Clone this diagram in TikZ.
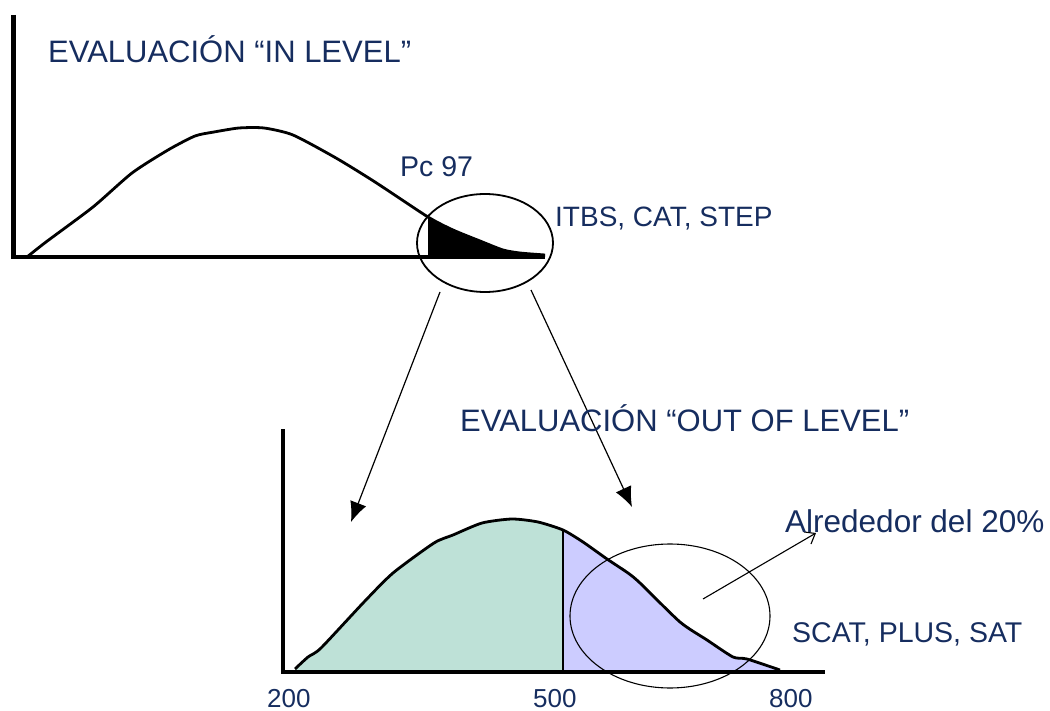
\documentclass[tikz,border=0pt]{standalone}
\usepackage{fontspec}
\setmainfont{Liberation Sans}
\usetikzlibrary{arrows.meta}
\definecolor{navy}{RGB}{22,45,95}
\definecolor{greenfill}{RGB}{190,225,215}
\definecolor{lavfill}{RGB}{204,204,255}
\tikzset{
  axisline/.style={line width=4.2pt},
  curveline/.style={line width=2.8pt, line join=round},
  lbl/.style={inner sep=0pt, anchor=base west, text=navy},
  bigarrow/.style={line width=1.2pt, -{Latex[length=20pt,width=17pt]}},
  thinarrow/.style={line width=1.1pt, -{Straight Barb[length=9pt,width=14pt]}}
}
\begin{document}
\begin{tikzpicture}[x=1pt,y=-1pt]
\useasboundingbox (0,0) rectangle (1050,711);
% ---------- top graph ----------
\fill[black] plot[smooth,tension=0.4] coordinates {(428,217) (453,230) (480,241) (503,250) (520,253) (545,255)} -- (545,257) -- (428,257) -- cycle;
\draw[curveline] plot[smooth,tension=0.4] coordinates {(27,257) (46,242) (93,207) (132,173) (168,150) (195,136) (214,132) (239,128) (264,128) (293,135) (336,158) (375,182) (428,217) (453,230) (480,241) (503,250) (520,253) (545,255)};
\draw[axisline] (13.5,15) -- (13.5,257) -- (545,257);
\draw[line width=1.8pt] (485,243) ellipse (68 and 49);
\coordinate (a1s) at (440,292);
\coordinate (a1e) at (351,522);
\coordinate (a2s) at (531,290);
\coordinate (a2e) at (632,507);
\node[lbl, font=\fontsize{31}{31}\selectfont] (t1) at (48,63) {EVALUACIÓN “IN LEVEL”};
\node[lbl, font=\fontsize{28.5}{28.5}\selectfont] (pc) at (400,177) {Pc 97};
\node[lbl, font=\fontsize{28}{28}\selectfont] (itbs) at (555,227) {ITBS, CAT, STEP};
% ---------- arrows ----------
\draw[bigarrow] (a1s) -- (a1e);
\draw[bigarrow] (a2s) -- (a2e);
% ---------- bottom graph ----------
\fill[greenfill] plot[smooth,tension=0.4] coordinates {(295,670) (308,657) (321,648) (364,602) (393,573) (434,543) (453,535) (482,523) (512,519) (538,522) (563,530)} -- (563,672) -- (295,672) -- cycle;
\fill[lavfill] plot[smooth,tension=0.4] coordinates {(563,531) (583,542) (607,559) (628,573) (640,583) (680,622) (707,640) (733,657) (747,659) (780,670)} -- (563,672) -- cycle;
\draw[curveline] plot[smooth,tension=0.4] coordinates {(295,669) (308,657) (321,648) (364,602) (393,573) (434,543) (453,535) (482,523) (512,519) (538,522) (563,530) (583,542) (607,559) (628,573) (640,583) (680,622) (707,640) (733,657) (747,659) (780,670)};
\draw[line width=2.6pt] (563,530) -- (563,672);
\draw[axisline] (283,429) -- (283,672) -- (825,672);
\draw[line width=1.1pt] (670,616) ellipse (100 and 72);
\coordinate (a3s) at (703,599);
\coordinate (a3e) at (816,533);
\draw[thinarrow] (a3s) -- (a3e);
\node[lbl, font=\fontsize{31}{31}\selectfont] (t2) at (460,431) {EVALUACIÓN “OUT OF LEVEL”};
\node[lbl, font=\fontsize{31.5}{31.5}\selectfont] (alr) at (785,532) {Alrededor del 20\%};
\node[lbl, font=\fontsize{28.5}{28.5}\selectfont] (scat) at (792,642) {SCAT, PLUS, SAT};
\node[lbl, font=\fontsize{26}{26}\selectfont] (l200) at (267,707) {200};
\node[lbl, font=\fontsize{26}{26}\selectfont] (l500) at (533,707.5) {500};
\node[lbl, font=\fontsize{26}{26}\selectfont] (l800) at (769,707) {800};
\end{tikzpicture}
\end{document}
